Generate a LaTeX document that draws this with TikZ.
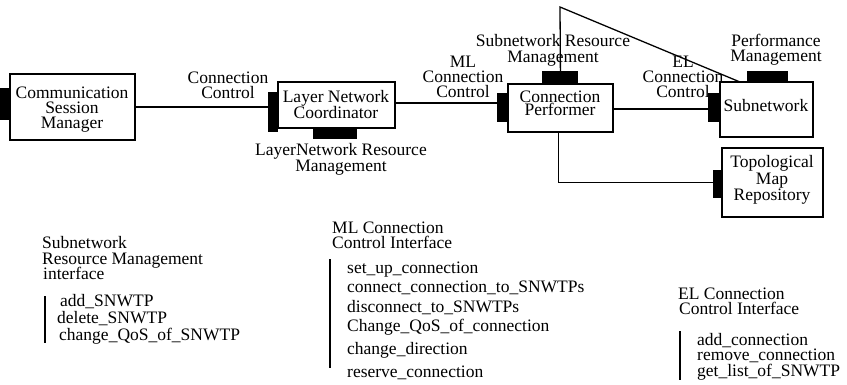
\documentclass[tikz,border=0pt]{standalone}
\usepackage{fontspec}
\setmainfont{Liberation Serif}
\newcommand\myfs{\fontsize{17.5}{15}\selectfont}
\begin{document}
\begin{tikzpicture}[x=1pt,y=-1pt,
  box/.style={draw, line width=1.4pt, inner sep=0pt, outer sep=0pt},
  port/.style={fill=black, draw=none, inner sep=0pt, outer sep=0pt},
  lbl/.style={inner sep=0pt, align=center, font=\myfs},
  txt/.style={inner sep=0pt, anchor=base west, font=\myfs},
  conn/.style={line width=1.3pt},
  bar/.style={line width=1.5pt}]
\useasboundingbox (0,0) rectangle (847,384);

% ---- labels (drawn first so ports/lines lie over them)
\node[lbl] (ccL) at (228,85.5) {Connection\\Control};
\node[lbl] (lnrmL) at (341,159.5) {LayerNetwork Resource\\Management};
\node[lbl] (mlL) at (463,77) {ML\\Connection\\Control};
\node[lbl, font=\fontsize{17.5}{16}\selectfont] (snrmL) at (553,50) {Subnetwork Resource\\Management};
\node[lbl] (pmL) at (776,49.5) {Performance\\Management};
\node[lbl] (elL) at (683,77) {EL\\Connection\\Control};

% ---- boxes
\node[box, minimum width=125pt, minimum height=66pt] (csm) at (72.5,107) {};
\node[box, minimum width=117pt, minimum height=46pt] (lnc) at (336.5,105) {};
\node[box, minimum width=105pt, minimum height=48pt] (cp) at (560.5,108) {};
\node[box, minimum width=93pt, minimum height=55pt] (sn) at (766.5,109.5) {};
\node[box, minimum width=101pt, minimum height=69pt] (tmr) at (772.5,182.5) {};

% ---- box texts
\node[lbl] (csmT) at (72,110) {Communication\\Session\\Manager};
\node[lbl] (lncT) at (336,104.5) {Layer Network\\Coordinator};
\node[lbl, font=\fontsize{17.5}{13.5}\selectfont] (cpT) at (560,103.5) {Connection\\Performer};
\node[lbl] (snT) at (766,106) {Subnetwork};
\node[lbl, font=\fontsize{17.5}{16.5}\selectfont] (tmrT) at (772,180) {Topological\\Map\\Repository};

% ---- connectors
\coordinate (apex) at (560,7);
\draw[conn] (csm.east) -- (csm.east -| lnc.west);
\draw[conn] ([yshift=2pt]lnc.east) -- ([yshift=2pt]lnc.east -| cp.west);
\draw[conn] ([yshift=-1pt]cp.east) -- ([yshift=-1pt]cp.east -| sn.west);
\draw[conn] (cp.north) -- (apex) -- ([xshift=20pt]sn.north west);
\draw[conn] ([xshift=-2pt]cp.south) |- (tmr.west);

% ---- ports
\node[port, minimum width=10pt, minimum height=32pt] (csmP) at (5,104) {};
\node[port, minimum width=10pt, minimum height=40pt] (lncP) at (273,112) {};
\node[port, minimum width=44pt, minimum height=11pt] (lncB) at (335,133.5) {};
\node[port, minimum width=11pt, minimum height=29pt] (cpP) at (502.5,107.5) {};
\node[port, minimum width=36pt, minimum height=13pt] (cpTop) at (560,77.5) {};
\node[port, minimum width=12pt, minimum height=29pt] (snP) at (714,107.5) {};
\node[port, minimum width=41pt, minimum height=11pt] (snTop) at (767.5,76.5) {};
\node[port, minimum width=9pt, minimum height=28pt] (tmrP) at (717.5,184) {};

% ---- Subnetwork Resource Management interface
\node[txt] (s1) at (42,248) {Subnetwork};
\node[txt] (s2) at (42,264) {Resource Management};
\node[txt] (s3) at (43,279) {interface};
\coordinate (sbA) at (45,296);
\coordinate (sbB) at (45,343);
\draw[bar] (sbA) -- (sbB);
\node[txt] (s4) at (60,306) {add\_SNWTP};
\node[txt] (s5) at (57,323) {delete\_SNWTP};
\node[txt] (s6) at (59,340) {change\_QoS\_of\_SNWTP};

% ---- ML Connection Control Interface
\node[txt] (m1) at (332,233) {ML Connection};
\node[txt] (m2) at (332,248) {Control Interface};
\coordinate (mbA) at (330,259);
\coordinate (mbB) at (330,368);
\draw[bar] (mbA) -- (mbB);
\node[txt] (m3) at (347,273) {set\_up\_connection};
\node[txt] (m4) at (347,292) {connect\_connection\_to\_SNWTPs};
\node[txt] (m5) at (347,312) {disconnect\_to\_SNWTPs};
\node[txt] (m6) at (347,331) {Change\_QoS\_of\_connection};
\node[txt] (m7) at (347,354) {change\_direction};
\node[txt] (m8) at (347,377) {reserve\_connection};

% ---- EL Connection Control Interface
\node[txt] (e1) at (678,299) {EL Connection};
\node[txt] (e2) at (679,314) {Control Interface};
\coordinate (ebA) at (680,331);
\coordinate (ebB) at (680,380);
\draw[bar] (ebA) -- (ebB);
\node[txt] (e3) at (697,345) {add\_connection};
\node[txt] (e4) at (697,360) {remove\_connection};
\node[txt] (e5) at (697,376) {get\_list\_of\_SNWTP};
\end{tikzpicture}
\end{document}
